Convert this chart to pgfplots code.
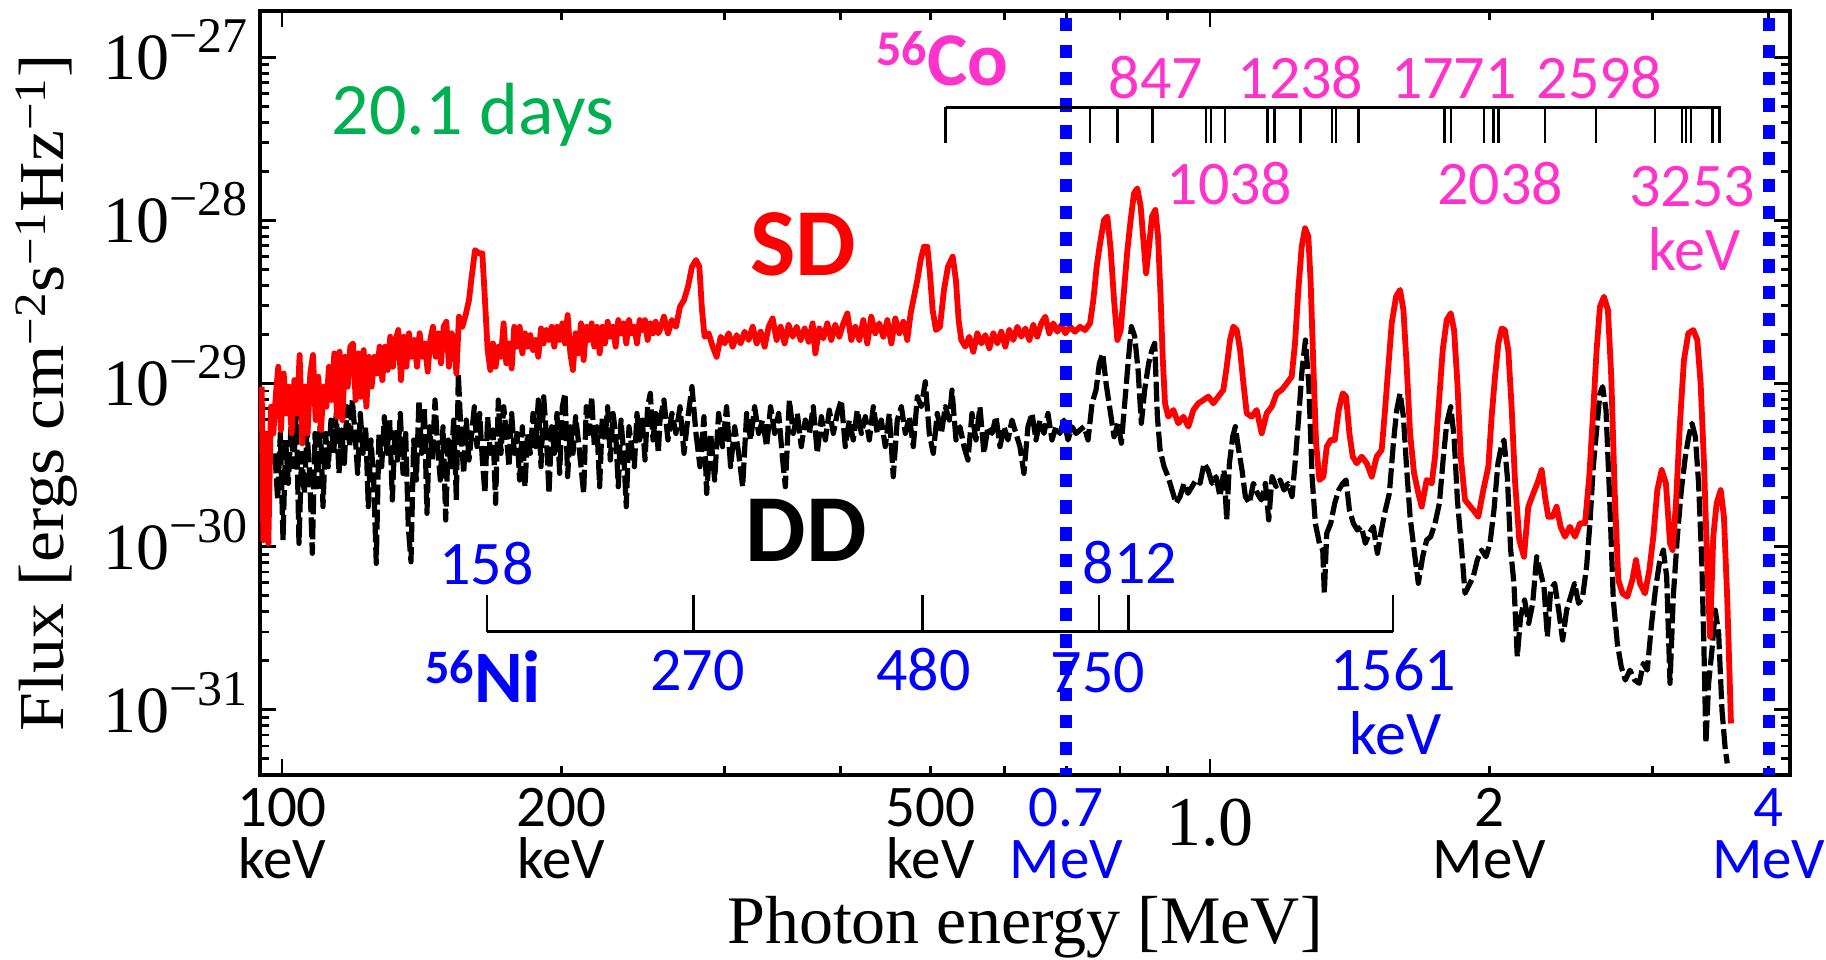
\documentclass[border=0pt]{standalone}
\usepackage{fontspec}
\setmainfont{Liberation Serif}
\newfontfamily\comic{Carlito}
\usepackage{pgfplots}
\pgfplotsset{compat=1.18}
\definecolor{cmag}{RGB}{255,51,204}
\definecolor{cgreen}{RGB}{0,176,80}
\definecolor{cblue}{RGB}{0,0,255}
\newcommand{\tp}[1]{10\raisebox{13.5pt}{\fontsize{25}{25}\selectfont −#1}}
\begin{document}
\begin{tikzpicture}
\begin{axis}[name=ax, at={(0,0)}, anchor=south west,
 scale only axis, width=765pt, height=382pt,
 xmin=-1.0237, xmax=0.625, ymin=-31.40, ymax=-26.716,
 clip=false,
 axis line style={line width=2pt},
 every tick/.style={black, line width=1.4pt},
 major tick length=8pt, minor tick length=4.5pt,
 xtick={-1,0},
 xticklabels={{100\\keV},{\rmfamily\fontsize{35}{35}\selectfont\rule{0pt}{28.5pt}1.0}},
 extra x ticks={-0.69897,-0.30103,-0.15490,0.30103,0.60206},
 extra x tick labels={{200\\keV},{500\\keV},{\textcolor{cblue}{0.7}\\\textcolor{cblue}{MeV}},{2\\MeV},{\textcolor{cblue}{4}\\\textcolor{cblue}{MeV}}},
 extra x tick style={major tick length=4.5pt},
 minor xtick={-0.52288,-0.39794,-0.22185,-0.09691,-0.04576,0.47712},
 xticklabel style={anchor=north, inner sep=0pt, yshift=-6.5pt, align=center, font=\comic\fontsize{29.5}{26}\selectfont},
 ytick={-31,-30,-29,-28,-27},
 yticklabels={\tp{31},\tp{30},\tp{29},\tp{28},\tp{27}},
 minor ytick={-31.30103,-31.22185,-31.15490,-31.09691,-31.04576,
 -30.69897,-30.52288,-30.39794,-30.30103,-30.22185,-30.15490,-30.09691,-30.04576,
 -29.69897,-29.52288,-29.39794,-29.30103,-29.22185,-29.15490,-29.09691,-29.04576,
 -28.69897,-28.52288,-28.39794,-28.30103,-28.22185,-28.15490,-28.09691,-28.04576,
 -27.69897,-27.52288,-27.39794,-27.30103,-27.22185,-27.15490,-27.09691,-27.04576},
 yticklabel style={anchor=base east, inner sep=0pt, xshift=-6pt, yshift=-11.2pt, font=\fontsize{33}{33}\selectfont},
]
% DD (black dashed): x = log10(E/MeV), y = log10(Flux)
\addplot[black, line width=2.6pt, line join=round, dash pattern=on 10pt off 2.5pt] coordinates {
(-1.0076,-29.428) (-1.0047,-29.714) (-1.0018,-29.306) (-0.9989,-29.960) (-0.9961,-29.346) (-0.9932,-29.612) (-0.9903,-29.265) (-0.9874,-29.510) (-0.9846,-29.183) (-0.9817,-29.980)
(-0.9788,-29.428) (-0.9759,-29.674) (-0.9731,-29.285) (-0.9702,-29.551) (-0.9673,-30.041) (-0.9644,-29.306) (-0.9616,-29.633) (-0.9587,-29.224) (-0.9558,-29.755) (-0.9530,-29.306)
(-0.9501,-29.510) (-0.9472,-29.224) (-0.9443,-29.428) (-0.9415,-29.183) (-0.9386,-29.551) (-0.9357,-29.285) (-0.9328,-29.490) (-0.9300,-29.142) (-0.9271,-29.387) (-0.9242,-29.101)
(-0.9213,-29.306) (-0.9185,-29.551) (-0.9156,-29.183) (-0.9127,-29.428) (-0.9098,-29.265) (-0.9070,-29.755) (-0.9041,-29.346) (-0.9012,-29.592) (-0.8984,-30.103) (-0.8955,-29.306)
(-0.8926,-29.510) (-0.8897,-29.203) (-0.8869,-29.428) (-0.8840,-29.224) (-0.8811,-29.714) (-0.8782,-29.285) (-0.8754,-29.469) (-0.8725,-29.183) (-0.8696,-29.551) (-0.8667,-29.306)
(-0.8639,-29.878) (-0.8610,-30.093) (-0.8581,-29.346) (-0.8552,-29.592) (-0.8524,-29.101) (-0.8495,-29.428) (-0.8466,-29.142) (-0.8438,-29.796) (-0.8409,-29.265) (-0.8380,-29.469)
(-0.8351,-29.101) (-0.8323,-29.387) (-0.8294,-29.592) (-0.8265,-29.265) (-0.8236,-29.837) (-0.8208,-29.346) (-0.8179,-29.510) (-0.8150,-29.224) (-0.8121,-29.714) (-0.8100,-28.938)
(-0.8071,-29.306) (-0.8042,-29.551) (-0.8014,-29.224) (-0.7985,-29.469) (-0.7956,-29.306) (-0.7927,-29.142) (-0.7899,-29.387) (-0.7870,-29.183) (-0.7841,-29.469) (-0.7813,-29.674)
(-0.7784,-29.203) (-0.7755,-29.428) (-0.7726,-29.285) (-0.7698,-29.735) (-0.7669,-29.101) (-0.7640,-29.428) (-0.7611,-29.142) (-0.7583,-29.306) (-0.7554,-29.510) (-0.7525,-29.183)
(-0.7496,-29.428) (-0.7468,-29.306) (-0.7439,-29.592) (-0.7410,-29.265) (-0.7382,-29.633) (-0.7353,-29.306) (-0.7324,-29.428) (-0.7295,-29.183) (-0.7267,-29.387) (-0.7238,-29.101)
(-0.7209,-29.510) (-0.7180,-29.081) (-0.7152,-29.306) (-0.7123,-29.674) (-0.7094,-29.265) (-0.7065,-29.428) (-0.7037,-29.183) (-0.7008,-29.551) (-0.6979,-29.142) (-0.6950,-29.060)
(-0.6922,-29.571) (-0.6893,-29.265) (-0.6864,-29.428) (-0.6836,-29.203) (-0.6807,-29.346) (-0.6778,-29.510) (-0.6749,-29.674) (-0.6721,-29.142) (-0.6692,-29.306) (-0.6663,-29.081)
(-0.6634,-29.387) (-0.6606,-29.265) (-0.6577,-29.633) (-0.6548,-29.203) (-0.6519,-29.346) (-0.6491,-29.142) (-0.6462,-29.469) (-0.6433,-29.183) (-0.6404,-29.306) (-0.6376,-29.633)
(-0.6347,-29.224) (-0.6318,-29.428) (-0.6290,-29.755) (-0.6261,-29.265) (-0.6232,-29.387) (-0.6203,-29.510) (-0.6175,-29.183) (-0.6146,-29.346) (-0.6117,-29.224) (-0.6088,-29.469)
(-0.6060,-29.142) (-0.6031,-29.060) (-0.6002,-29.346) (-0.5973,-29.183) (-0.5945,-29.428)
(-0.5927,-29.224) (-0.5884,-29.101) (-0.5841,-29.346) (-0.5798,-29.183) (-0.5755,-29.306) (-0.5711,-29.142) (-0.5668,-29.428) (-0.5625,-29.203) (-0.5582,-29.019) (-0.5539,-29.306)
(-0.5496,-29.510) (-0.5453,-29.203) (-0.5424,-29.674) (-0.5381,-29.306) (-0.5338,-29.592) (-0.5295,-29.183) (-0.5252,-29.387) (-0.5209,-29.142) (-0.5166,-29.510) (-0.5122,-29.265)
(-0.5079,-29.428) (-0.5036,-29.633) (-0.4993,-29.183) (-0.4950,-29.346) (-0.4907,-29.142) (-0.4864,-29.306) (-0.4821,-29.224) (-0.4778,-29.387) (-0.4735,-29.142) (-0.4691,-29.306)
(-0.4648,-29.183) (-0.4605,-29.469) (-0.4576,-29.633) (-0.4533,-29.101) (-0.4490,-29.306) (-0.4447,-29.183) (-0.4404,-29.387) (-0.4361,-29.224) (-0.4318,-29.306) (-0.4275,-29.142)
(-0.4232,-29.428) (-0.4188,-29.203) (-0.4145,-29.346) (-0.4102,-29.163) (-0.4059,-29.306) (-0.4016,-29.183) (-0.3973,-29.101) (-0.3930,-29.387) (-0.3887,-29.224) (-0.3844,-29.346)
(-0.3801,-29.163) (-0.3757,-29.306) (-0.3714,-29.203) (-0.3671,-29.346) (-0.3628,-29.142) (-0.3585,-29.306) (-0.3542,-29.224) (-0.3499,-29.387) (-0.3456,-29.183) (-0.3413,-29.571)
(-0.3370,-29.224) (-0.3326,-29.142) (-0.3283,-29.306) (-0.3240,-29.203) (-0.3197,-29.387) (-0.3154,-29.081) (-0.3111,-29.142) (-0.3068,-28.989) (-0.3025,-29.306) (-0.2982,-29.428)
(-0.2939,-29.183) (-0.2895,-29.306) (-0.2852,-29.142) (-0.2809,-29.224) (-0.2780,-29.040) (-0.2737,-29.346) (-0.2694,-29.265) (-0.2651,-29.387) (-0.2608,-29.469) (-0.2565,-29.183)
(-0.2522,-29.346) (-0.2479,-29.142) (-0.2436,-29.428) (-0.2393,-29.265) (-0.2349,-29.306) (-0.2306,-29.203) (-0.2263,-29.387) (-0.2220,-29.265) (-0.2177,-29.346) (-0.2134,-29.224)
(-0.2091,-29.306) (-0.2048,-29.387) (-0.2005,-29.551) (-0.1962,-29.265) (-0.1918,-29.183) (-0.1875,-29.346) (-0.1832,-29.224) (-0.1789,-29.306) (-0.1746,-29.183) (-0.1703,-29.346)
(-0.1660,-29.265) (-0.1617,-29.306) (-0.1574,-29.224) (-0.1530,-29.346) (-0.1487,-29.265) (-0.1444,-29.306) (-0.1401,-29.285)
(-0.1357,-29.264) (-0.1314,-29.346) (-0.1271,-29.121) (-0.1228,-29.039) (-0.1192,-28.876) (-0.1156,-28.815) (-0.1120,-28.999) (-0.1077,-29.162) (-0.1034,-29.326) (-0.0991,-29.244)
(-0.0955,-29.366) (-0.0919,-29.121) (-0.0883,-28.876) (-0.0847,-28.651) (-0.0811,-28.712) (-0.0775,-28.917) (-0.0740,-29.244) (-0.0704,-29.039) (-0.0661,-28.876) (-0.0625,-28.794)
(-0.0596,-28.753) (-0.0567,-29.203) (-0.0538,-29.407) (-0.0495,-29.510) (-0.0452,-29.571) (-0.0409,-29.653) (-0.0366,-29.734) (-0.0323,-29.693) (-0.0280,-29.612) (-0.0237,-29.673)
(-0.0194,-29.632) (-0.0150,-29.591) (-0.0107,-29.612) (-0.0064,-29.489) (-0.0021,-29.530) (0.0022,-29.612) (0.0065,-29.571) (0.0108,-29.693) (0.0151,-29.530) (0.0180,-29.836)
(0.0209,-29.489) (0.0245,-29.326) (0.0273,-29.264) (0.0309,-29.407) (0.0345,-29.530) (0.0381,-29.693) (0.0424,-29.734) (0.0467,-29.612) (0.0510,-29.673) (0.0554,-29.714)
(0.0597,-29.612) (0.0633,-29.836) (0.0669,-29.571) (0.0712,-29.632) (0.0755,-29.591) (0.0798,-29.653) (0.0841,-29.612) (0.0884,-29.693) (0.0920,-29.469) (0.0956,-29.203)
(0.0992,-28.917) (0.1028,-28.733) (0.1064,-28.999) (0.1100,-29.571) (0.1135,-29.857) (0.1179,-29.980) (0.1215,-30.020) (0.1232,-30.286) (0.1258,-29.918) (0.1301,-29.857)
(0.1344,-29.734) (0.1387,-29.653) (0.1430,-29.612) (0.1466,-29.591) (0.1502,-29.775) (0.1545,-29.857) (0.1588,-29.898) (0.1631,-29.877) (0.1674,-29.980) (0.1717,-29.918)
(0.1760,-29.877) (0.1804,-30.041) (0.1847,-29.898) (0.1890,-29.775) (0.1933,-29.673) (0.1976,-29.366) (0.2012,-29.162) (0.2048,-29.060) (0.2084,-29.203) (0.2120,-29.530)
(0.2156,-29.816) (0.2199,-30.020) (0.2245,-30.225) (0.2292,-30.061) (0.2335,-29.959) (0.2378,-29.939) (0.2425,-29.857) (0.2472,-29.734) (0.2515,-29.448) (0.2551,-29.244)
(0.2594,-29.142) (0.2630,-29.326) (0.2666,-29.714) (0.2712,-30.020) (0.2748,-30.286)
(0.2837,-30.184) (0.2880,-30.082) (0.2927,-30.021) (0.2974,-30.062) (0.3017,-29.980) (0.3060,-29.776) (0.3103,-29.489) (0.3139,-29.387) (0.3168,-29.346) (0.3204,-29.571)
(0.3240,-30.021) (0.3275,-30.225) (0.3311,-30.675) (0.3347,-30.430) (0.3390,-30.327) (0.3434,-30.471) (0.3477,-30.348) (0.3520,-30.062) (0.3556,-30.144) (0.3599,-30.246)
(0.3635,-30.552) (0.3671,-30.266) (0.3714,-30.225) (0.3757,-30.389) (0.3800,-30.573) (0.3843,-30.389) (0.3886,-30.307) (0.3929,-30.225) (0.3972,-30.348) (0.4015,-30.307)
(0.4058,-30.123) (0.4094,-29.857) (0.4130,-29.510) (0.4166,-29.285) (0.4202,-29.060) (0.4231,-29.019) (0.4267,-29.162) (0.4303,-29.653) (0.4346,-30.327) (0.4389,-30.593)
(0.4432,-30.737) (0.4475,-30.818) (0.4525,-30.757) (0.4576,-30.818) (0.4626,-30.838) (0.4669,-30.716) (0.4712,-30.757) (0.4755,-30.491) (0.4799,-30.266) (0.4842,-30.103)
(0.4885,-30.021) (0.4921,-30.184) (0.4957,-30.838) (0.4992,-30.307) (0.5036,-29.939) (0.5079,-29.653) (0.5122,-29.449) (0.5158,-29.326) (0.5194,-29.244) (0.5230,-29.326)
(0.5265,-29.612) (0.5301,-30.123) (0.5323,-30.634) (0.5344,-31.206) (0.5373,-30.838) (0.5409,-30.634) (0.5445,-30.389) (0.5481,-30.532) (0.5517,-31.002) (0.5553,-31.247)
(0.5574,-31.329)
};
% SD (red solid)
\addplot[red, line width=2.9pt, line join=round] coordinates {
(-1.0219,-29.019) (-1.0201,-29.960) (-1.0172,-29.306) (-1.0147,-29.980) (-1.0119,-29.142) (-1.0093,-29.306) (-1.0065,-29.060) (-1.0040,-28.897) (-1.0011,-29.285) (-0.9982,-28.938)
(-0.9953,-29.183) (-0.9925,-29.019) (-0.9896,-29.306) (-0.9867,-28.979) (-0.9838,-29.183) (-0.9810,-28.825) (-0.9781,-29.367) (-0.9752,-29.019) (-0.9724,-29.306) (-0.9695,-28.938)
(-0.9666,-28.825) (-0.9637,-29.224) (-0.9609,-28.958) (-0.9580,-29.285) (-0.9551,-29.019) (-0.9522,-29.142) (-0.9494,-28.897) (-0.9465,-29.101) (-0.9436,-28.815) (-0.9407,-29.203)
(-0.9379,-28.805) (-0.9350,-29.224) (-0.9321,-28.836) (-0.9292,-29.019) (-0.9264,-28.774) (-0.9235,-28.754) (-0.9206,-29.101) (-0.9178,-28.815) (-0.9149,-29.081) (-0.9120,-28.795)
(-0.9091,-29.142) (-0.9063,-28.836) (-0.9034,-29.019) (-0.9005,-28.836) (-0.8976,-28.938) (-0.8948,-28.774) (-0.8919,-28.979) (-0.8890,-28.774) (-0.8861,-28.917) (-0.8833,-28.713)
(-0.8804,-28.897) (-0.8775,-28.733) (-0.8747,-28.672) (-0.8718,-28.979) (-0.8689,-28.713) (-0.8660,-28.897) (-0.8632,-28.692) (-0.8603,-28.836) (-0.8574,-28.733) (-0.8545,-28.897)
(-0.8517,-28.692) (-0.8488,-28.836) (-0.8459,-28.754) (-0.8430,-28.927) (-0.8402,-28.733) (-0.8373,-28.652) (-0.8344,-28.836) (-0.8315,-28.692) (-0.8287,-28.876) (-0.8258,-28.652)
(-0.8229,-28.621) (-0.8201,-28.897) (-0.8172,-28.692) (-0.8143,-28.733) (-0.8121,-28.938) (-0.8093,-28.590) (-0.8057,-28.652) (-0.8021,-28.580) (-0.7985,-28.488) (-0.7956,-28.345)
(-0.7920,-28.182) (-0.7877,-28.202) (-0.7841,-28.202) (-0.7813,-28.488) (-0.7784,-28.795) (-0.7755,-28.917) (-0.7727,-28.754) (-0.7698,-28.897) (-0.7669,-28.774) (-0.7640,-28.836)
(-0.7612,-28.631) (-0.7583,-28.876) (-0.7554,-28.754) (-0.7525,-28.907) (-0.7497,-28.652) (-0.7468,-28.774) (-0.7439,-28.652) (-0.7410,-28.815) (-0.7382,-28.692) (-0.7353,-28.774)
(-0.7324,-28.703) (-0.7295,-28.795) (-0.7267,-28.733) (-0.7238,-28.836) (-0.7209,-28.662) (-0.7181,-28.754) (-0.7152,-28.672) (-0.7123,-28.733) (-0.7094,-28.652) (-0.7066,-28.774)
(-0.7037,-28.652) (-0.7008,-28.733) (-0.6979,-28.631) (-0.6951,-28.754) (-0.6922,-28.580) (-0.6893,-28.815) (-0.6865,-28.917) (-0.6836,-28.692) (-0.6807,-28.815) (-0.6778,-28.631)
(-0.6750,-28.856) (-0.6721,-28.652) (-0.6692,-28.733) (-0.6663,-28.631) (-0.6635,-28.774) (-0.6606,-28.652) (-0.6577,-28.815) (-0.6548,-28.652) (-0.6520,-28.754) (-0.6491,-28.621)
(-0.6462,-28.713) (-0.6433,-28.652) (-0.6405,-28.774) (-0.6376,-28.611) (-0.6347,-28.692) (-0.6318,-28.631) (-0.6290,-28.754) (-0.6261,-28.611) (-0.6232,-28.692) (-0.6203,-28.652)
(-0.6175,-28.754) (-0.6146,-28.611) (-0.6117,-28.672) (-0.6089,-28.611) (-0.6060,-28.733) (-0.6031,-28.631) (-0.6002,-28.692) (-0.5974,-28.621) (-0.5945,-28.692)
(-0.5927,-28.672) (-0.5884,-28.590) (-0.5841,-28.692) (-0.5798,-28.611) (-0.5755,-28.652) (-0.5711,-28.529) (-0.5668,-28.488) (-0.5625,-28.406) (-0.5582,-28.284) (-0.5539,-28.243)
(-0.5503,-28.284) (-0.5474,-28.549) (-0.5446,-28.713) (-0.5403,-28.692) (-0.5359,-28.774) (-0.5316,-28.836) (-0.5273,-28.713) (-0.5230,-28.754) (-0.5187,-28.692) (-0.5144,-28.774)
(-0.5101,-28.703) (-0.5058,-28.754) (-0.5015,-28.682) (-0.4972,-28.733) (-0.4928,-28.652) (-0.4885,-28.754) (-0.4842,-28.682) (-0.4799,-28.774) (-0.4756,-28.652) (-0.4713,-28.601)
(-0.4670,-28.733) (-0.4627,-28.652) (-0.4584,-28.754) (-0.4541,-28.641) (-0.4497,-28.713) (-0.4454,-28.652) (-0.4411,-28.733) (-0.4368,-28.662) (-0.4325,-28.744) (-0.4282,-28.631)
(-0.4253,-28.815) (-0.4210,-28.662) (-0.4167,-28.723) (-0.4124,-28.631) (-0.4081,-28.733) (-0.4038,-28.641) (-0.3995,-28.713) (-0.3951,-28.631) (-0.3908,-28.570) (-0.3865,-28.733)
(-0.3822,-28.652) (-0.3779,-28.733) (-0.3736,-28.611) (-0.3693,-28.754) (-0.3650,-28.590) (-0.3607,-28.692) (-0.3564,-28.631) (-0.3520,-28.713) (-0.3477,-28.611) (-0.3434,-28.754)
(-0.3391,-28.601) (-0.3348,-28.692) (-0.3305,-28.621) (-0.3262,-28.733) (-0.3226,-28.570) (-0.3190,-28.468) (-0.3154,-28.366) (-0.3118,-28.243) (-0.3082,-28.161) (-0.3046,-28.161)
(-0.3018,-28.325) (-0.2989,-28.549) (-0.2953,-28.672) (-0.2910,-28.652) (-0.2867,-28.427) (-0.2824,-28.284) (-0.2773,-28.222) (-0.2738,-28.366) (-0.2709,-28.611) (-0.2680,-28.733)
(-0.2637,-28.774) (-0.2594,-28.713) (-0.2551,-28.805) (-0.2507,-28.692) (-0.2464,-28.754) (-0.2421,-28.703) (-0.2378,-28.784) (-0.2335,-28.692) (-0.2292,-28.754) (-0.2249,-28.682)
(-0.2206,-28.774) (-0.2163,-28.672) (-0.2120,-28.733) (-0.2076,-28.652) (-0.2033,-28.713) (-0.1990,-28.662) (-0.1947,-28.733) (-0.1904,-28.641) (-0.1861,-28.713) (-0.1818,-28.631)
(-0.1775,-28.590) (-0.1732,-28.692) (-0.1689,-28.631) (-0.1645,-28.682) (-0.1602,-28.641) (-0.1559,-28.692) (-0.1509,-28.652) (-0.1455,-28.682) (-0.1401,-28.652)
(-0.1347,-28.672) (-0.1293,-28.631) (-0.1257,-28.488) (-0.1221,-28.283) (-0.1185,-28.140) (-0.1142,-27.997) (-0.1106,-27.977) (-0.1070,-28.181) (-0.1034,-28.488) (-0.0998,-28.733)
(-0.0962,-28.672) (-0.0926,-28.426) (-0.0890,-28.181) (-0.0855,-27.997) (-0.0819,-27.834) (-0.0783,-27.803) (-0.0747,-27.915) (-0.0718,-28.120) (-0.0689,-28.324) (-0.0661,-28.181)
(-0.0625,-27.977) (-0.0589,-27.936) (-0.0560,-28.099) (-0.0531,-28.488) (-0.0510,-28.835) (-0.0485,-29.121) (-0.0449,-29.203) (-0.0395,-29.162) (-0.0341,-29.244) (-0.0287,-29.203)
(-0.0233,-29.264) (-0.0179,-29.162) (-0.0125,-29.121) (-0.0071,-29.101) (-0.0018,-29.080) (0.0036,-29.121) (0.0090,-29.080) (0.0144,-29.039) (0.0180,-28.896) (0.0216,-28.733)
(0.0252,-28.651) (0.0288,-28.672) (0.0324,-28.794) (0.0360,-28.999) (0.0396,-29.183) (0.0449,-29.203) (0.0503,-29.162) (0.0557,-29.305) (0.0611,-29.183) (0.0665,-29.142)
(0.0719,-29.060) (0.0773,-29.039) (0.0827,-28.999) (0.0880,-28.958) (0.0916,-28.753) (0.0952,-28.426) (0.0988,-28.161) (0.1024,-28.048) (0.1060,-28.099) (0.1085,-28.386)
(0.1114,-28.896) (0.1143,-29.366) (0.1179,-29.591) (0.1222,-29.571) (0.1258,-29.387) (0.1301,-29.346) (0.1344,-29.346) (0.1387,-29.162) (0.1430,-29.060) (0.1466,-29.080)
(0.1502,-29.305) (0.1538,-29.448) (0.1581,-29.489) (0.1635,-29.448) (0.1689,-29.489) (0.1743,-29.571) (0.1796,-29.448) (0.1850,-29.407) (0.1886,-29.162) (0.1922,-28.896)
(0.1958,-28.631) (0.2005,-28.467) (0.2048,-28.426) (0.2084,-28.549) (0.2120,-28.896) (0.2156,-29.305) (0.2199,-29.550) (0.2245,-29.673) (0.2281,-29.755) (0.2335,-29.591)
(0.2389,-29.612) (0.2425,-29.448) (0.2461,-29.162) (0.2508,-28.794) (0.2551,-28.610) (0.2594,-28.569) (0.2630,-28.672) (0.2666,-28.999) (0.2702,-29.448) (0.2748,-29.714)
(0.2837,-29.776) (0.2891,-29.817) (0.2945,-29.653) (0.2999,-29.510) (0.3035,-29.203) (0.3071,-28.958) (0.3107,-28.754) (0.3143,-28.662) (0.3178,-28.672) (0.3214,-28.795)
(0.3250,-29.142) (0.3286,-29.592) (0.3333,-29.960) (0.3383,-30.062) (0.3430,-29.755) (0.3484,-29.673) (0.3527,-29.612) (0.3574,-29.530) (0.3610,-29.694) (0.3645,-29.817)
(0.3692,-29.817) (0.3735,-29.755) (0.3778,-29.878) (0.3825,-29.939) (0.3879,-29.878) (0.3933,-29.939) (0.3987,-29.857) (0.4041,-29.857) (0.4087,-29.571) (0.4130,-29.162)
(0.4166,-28.795) (0.4202,-28.529) (0.4245,-28.468) (0.4288,-28.549) (0.4324,-28.958) (0.4360,-29.653) (0.4400,-30.205) (0.4446,-30.287) (0.4497,-30.307) (0.4551,-30.205)
(0.4590,-30.082) (0.4633,-30.225) (0.4687,-30.287) (0.4734,-30.144) (0.4777,-29.939) (0.4820,-29.653) (0.4867,-29.530) (0.4913,-29.612) (0.4957,-29.980) (0.4985,-30.021)
(0.5021,-29.735) (0.5064,-29.244) (0.5107,-28.856) (0.5154,-28.692) (0.5208,-28.672) (0.5251,-28.733) (0.5287,-28.999) (0.5323,-29.489) (0.5359,-30.123) (0.5388,-30.552)
(0.5423,-29.939) (0.5459,-29.735) (0.5503,-29.653) (0.5538,-29.817) (0.5574,-30.327) (0.5596,-30.737) (0.5614,-31.084)
};
% blue dashed marker lines at 0.7 MeV and 4 MeV
\draw[cblue, line width=6.2pt, dash pattern=on 6.7pt off 6.7pt, dash phase=9.9pt] (axis cs:-0.15490,-26.716) -- (axis cs:-0.15490,-31.40);
\draw[cblue, line width=6.2pt, dash pattern=on 6.7pt off 6.7pt, dash phase=9.9pt] (axis cs:0.60206,-26.716) -- (axis cs:0.60206,-31.40);
% 56Co line ladder
\draw[line width=1.5pt] (axis cs:-0.2849,-27.305) -- (axis cs:0.5506,-27.305);
\draw[line width=1.3pt]
 (axis cs:-0.2849,-27.305) -- (axis cs:-0.2849,-27.525)
 (axis cs:-0.1293,-27.305) -- (axis cs:-0.1293,-27.525)
 (axis cs:-0.1000,-27.305) -- (axis cs:-0.1000,-27.525)
 (axis cs:-0.0621,-27.305) -- (axis cs:-0.0621,-27.525)
 (axis cs:-0.0043,-27.305) -- (axis cs:-0.0043,-27.525)
 (axis cs:0.0011,-27.305) -- (axis cs:0.0011,-27.525)
 (axis cs:0.0162,-27.305) -- (axis cs:0.0162,-27.525)
 (axis cs:0.0617,-27.305) -- (axis cs:0.0617,-27.525)
 (axis cs:0.0695,-27.305) -- (axis cs:0.0695,-27.525)
 (axis cs:0.0974,-27.305) -- (axis cs:0.0974,-27.525)
 (axis cs:0.1315,-27.305) -- (axis cs:0.1315,-27.525)
 (axis cs:0.1358,-27.305) -- (axis cs:0.1358,-27.525)
 (axis cs:0.1600,-27.305) -- (axis cs:0.1600,-27.525)
 (axis cs:0.2529,-27.305) -- (axis cs:0.2529,-27.525)
 (axis cs:0.2597,-27.305) -- (axis cs:0.2597,-27.525)
 (axis cs:0.2953,-27.305) -- (axis cs:0.2953,-27.525)
 (axis cs:0.3055,-27.305) -- (axis cs:0.3055,-27.525)
 (axis cs:0.3110,-27.305) -- (axis cs:0.3110,-27.525)
 (axis cs:0.3610,-27.305) -- (axis cs:0.3610,-27.525)
 (axis cs:0.4159,-27.305) -- (axis cs:0.4159,-27.525)
 (axis cs:0.4795,-27.305) -- (axis cs:0.4795,-27.525)
 (axis cs:0.5086,-27.305) -- (axis cs:0.5086,-27.525)
 (axis cs:0.5129,-27.305) -- (axis cs:0.5129,-27.525)
 (axis cs:0.5183,-27.305) -- (axis cs:0.5183,-27.525)
 (axis cs:0.5416,-27.305) -- (axis cs:0.5416,-27.525)
 (axis cs:0.5493,-27.305) -- (axis cs:0.5493,-27.525);
% 56Ni line ladder
\draw[line width=1.5pt] (axis cs:-0.7793,-30.522) -- (axis cs:0.1972,-30.522);
\draw[line width=1.3pt]
 (axis cs:-0.7793,-30.522) -- (axis cs:-0.7793,-30.297)
 (axis cs:-0.5566,-30.522) -- (axis cs:-0.5566,-30.297)
 (axis cs:-0.3099,-30.522) -- (axis cs:-0.3099,-30.297)
 (axis cs:-0.1196,-30.522) -- (axis cs:-0.1196,-30.297)
 (axis cs:-0.0877,-30.522) -- (axis cs:-0.0877,-30.297)
 (axis cs:0.1972,-30.522) -- (axis cs:0.1972,-30.297);
% texts
\node[anchor=base, inner sep=0pt, text=cgreen, font=\comic\fontsize{37}{37}\selectfont] at (axis cs:-0.7942,-27.476) {20.1 days};
\node[anchor=base, inner sep=0pt, text=red, font=\comic\bfseries\fontsize{48}{48}\selectfont] at (axis cs:-0.4386,-28.335) {SD};
\node[anchor=base, inner sep=0pt, text=black, font=\comic\bfseries\fontsize{48}{48}\selectfont] at (axis cs:-0.4353,-30.09) {DD};
\node[anchor=base west, inner sep=0pt, text=cmag, font=\comic\bfseries] at (axis cs:-0.3599,-27.170) {\fontsize{25}{25}\selectfont\raisebox{10pt}{56}\fontsize{38}{38}\selectfont Co};
\begin{scope}[every node/.style={anchor=base, inner sep=0pt, text=cmag, font=\comic\fontsize{31}{31}\selectfont}]
\node at (axis cs:-0.0582,-27.25) {847};
\node at (axis cs:0.0975,-27.25) {1238};
\node at (axis cs:0.2629,-27.25) {1771};
\node at (axis cs:0.4197,-27.25) {2598};
\node at (axis cs:0.0210,-27.905) {1038};
\node at (axis cs:0.3125,-27.905) {2038};
\node at (axis cs:0.5194,-27.915) {3253};
\node at (axis cs:0.5220,-28.304) {keV};
\end{scope}
\begin{scope}[every node/.style={anchor=base, inner sep=0pt, text=cblue, font=\comic\fontsize{31}{31}\selectfont}]
\node at (axis cs:-0.7796,-30.235) {158};
\node at (axis cs:-0.5523,-30.879) {270};
\node at (axis cs:-0.3087,-30.879) {480};
\node at (axis cs:-0.1207,-30.897) {750};
\node at (axis cs:-0.0862,-30.223) {812};
\node at (axis cs:0.1972,-30.879) {1561};
\node at (axis cs:0.1999,-31.277) {keV};
\end{scope}
\node[anchor=base west, inner sep=0pt, text=cblue, font=\comic\bfseries] at (axis cs:-0.8459,-30.953) {\fontsize{24}{24}\selectfont\raisebox{9.5pt}{56}\fontsize{37}{37}\selectfont Ni};
\end{axis}
\node[rotate=90, inner sep=0pt, font=\fontsize{32}{32}\selectfont] at ([xshift=-106.5pt]ax.west) {\scalebox{1.09}[1]{Flux [ergs cm\textsuperscript{−2}s\textsuperscript{−1}Hz\textsuperscript{−1}]}};
\node[anchor=base, inner sep=0pt, font=\fontsize{34}{34}\selectfont] at ([yshift=-84pt]ax.south) {Photon energy [MeV]};
\pgfresetboundingbox
\path ([shift={(-130pt,-92pt)}]ax.south west) rectangle ([shift={(18pt,5.5pt)}]ax.north east);
\end{tikzpicture}
\end{document}
